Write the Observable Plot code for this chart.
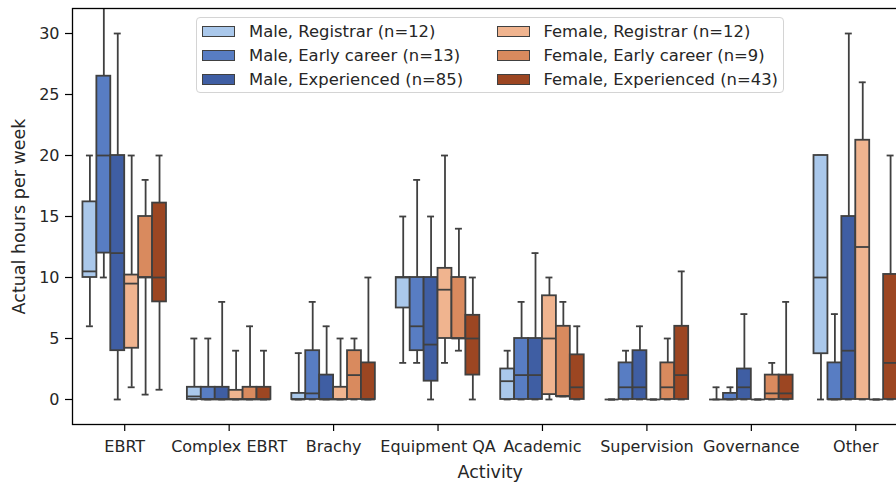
<!DOCTYPE html>
<html>
<head>
<meta charset="utf-8">
<script src="https://cdn.jsdelivr.net/npm/d3@7"></script>
<script src="https://cdn.jsdelivr.net/npm/@observablehq/plot@0.6"></script>
<style>
  html, body { margin: 0; padding: 0; background: white; overflow: hidden; }
  #wrap { position: relative; width: 896px; height: 483px; font-family: "DejaVu Sans", sans-serif; }
  #legend { position: absolute; left: 196px; top: 17px; width: 588px; height: 76px;
    border: 1px solid #d4d4d4; border-radius: 4px; background: rgba(255,255,255,0.85);
    box-sizing: border-box; }
  .item { position: absolute; height: 24px; display: flex; align-items: center; font-size: 16.4px; color: #262626; white-space: nowrap; }
  .sw { width: 33px; height: 11px; border: 1.3px solid #404040; box-sizing: border-box; margin-right: 14px; }
</style>
</head>
<body>
<div id="wrap"></div>
<script>
const activities = ["EBRT", "Complex EBRT", "Brachy", "Equipment QA", "Academic", "Supervision", "Governance", "Other"];
const groups = [
  "Male, Registrar (n=12)", "Male, Early career (n=13)", "Male, Experienced (n=85)",
  "Female, Registrar (n=12)", "Female, Early career (n=9)", "Female, Experienced (n=43)"
];
const colors = ["#aac8eb", "#587dc3", "#3f5ea3", "#f0b48f", "#d98a5e", "#9c4622"];
const yTicks = [0, 5, 10, 15, 20, 25, 30];

// five-number summaries per activity: [lower whisker, Q1, median, Q3, upper whisker]
const maleRegistrar = [
  [6, 10, 10.5, 16.2, 20], [0, 0, 0.25, 1, 5], [0, 0, 0, 0.5, 3.8], [3, 7.5, 10, 10, 15],
  [0, 0, 1.5, 2.5, 4], [0, 0, 0, 0, 0], [0, 0, 0, 0, 1], [0, 3.75, 10, 20, 20]
];
const maleEarly = [
  [10, 12, 20, 26.5, 40], [0, 0, 0, 1, 5], [0, 0, 0.5, 4, 8], [3, 4, 6, 10, 18],
  [0, 0, 2, 5, 8], [0, 0, 1, 3, 4], [0, 0, 0, 0.5, 1], [0, 0, 0, 3, 7]
];
const maleExperienced = [
  [0, 4, 12, 20, 30], [0, 0, 0, 1, 8], [0, 0, 0, 2, 6], [0, 1.5, 4.5, 10, 15],
  [0, 0, 2, 5, 12], [0, 0, 1, 4, 6], [0, 0, 1, 2.5, 7], [0, 0, 4, 15, 30]
];
const femaleRegistrar = [
  [1, 4.2, 9.5, 10.2, 20], [0, 0, 0, 0.75, 4], [0, 0, 0, 1, 5], [3, 5, 9, 10.75, 20],
  [0, 0.4, 5, 8.5, 10], [0, 0, 0, 0, 0], [0, 0, 0, 0, 0], [0, 0, 12.5, 21.25, 26]
];
const femaleEarly = [
  [0.4, 10, 10, 15, 18], [0, 0, 0, 1, 6], [0, 0, 2, 4, 5], [4, 5, 5, 10, 14],
  [0.25, 0.25, 0.25, 6, 8], [0, 0, 1, 3, 5], [0, 0, 0.5, 2, 3], [0, 0, 0, 0, 0]
];
const femaleExperienced = [
  [0.8, 8, 10, 16.1, 20], [0, 0, 0, 1, 4], [0, 0, 0, 3, 10], [0, 2, 5, 6.9, 10],
  [0, 0, 1, 3.66, 6], [0, 0, 2, 6, 10.5], [0, 0, 0.5, 2, 8], [0, 0, 3, 10.25, 20]
];
const series = [maleRegistrar, maleEarly, maleExperienced, femaleRegistrar, femaleEarly, femaleExperienced];

const rows = [];
series.forEach((s, g) => s.forEach(([lo, q1, med, q3, hi], i) => {
  rows.push({activity: activities[i], i, g, group: groups[g], lo, q1, med, q3, hi});
}));

const groupSpan = 0.8, boxW = groupSpan / groups.length;
const left = d => d.i - groupSpan / 2 + d.g * boxW;
const right = d => left(d) + boxW;
const center = d => left(d) + boxW / 2;
const capL = d => center(d) - boxW / 4;
const capR = d => center(d) + boxW / 4;

const line = "#404040", lw = 1.8;

const chart = Plot.plot({
  width: 896,
  height: 483,
  marginLeft: 72,
  marginRight: -11.5,
  marginTop: 8,
  marginBottom: 59,
  style: {fontFamily: "DejaVu Sans, sans-serif", fontSize: "16px", color: "#262626", overflow: "hidden", background: "white"},
  x: {domain: [-0.5, activities.length - 0.5]},
  y: {domain: [-2.05, 32.05]},
  color: {domain: groups, range: colors},
  marks: [
    Plot.ruleX(rows, {x: center, y1: "lo", y2: "q1", stroke: line, strokeWidth: lw, clip: true}),
    Plot.ruleX(rows, {x: center, y1: "q3", y2: "hi", stroke: line, strokeWidth: lw, clip: true}),
    Plot.ruleY(rows, {y: "lo", x1: capL, x2: capR, stroke: line, strokeWidth: lw, clip: true}),
    Plot.ruleY(rows, {y: "hi", x1: capL, x2: capR, stroke: line, strokeWidth: lw, clip: true}),
    Plot.rect(rows, {x1: left, x2: right, y1: "q1", y2: "q3", fill: "group", stroke: line, strokeWidth: lw, clip: true}),
    Plot.ruleY(rows, {y: "med", x1: left, x2: right, stroke: line, strokeWidth: lw, clip: true}),
    Plot.frame({stroke: "#000", strokeWidth: 1.3}),
    Plot.axisY({ticks: yTicks, tickSize: 7, tickPadding: 6, label: null, stroke: "#000", strokeWidth: 1.2}),
    Plot.axisY({ticks: [], label: "Actual hours per week", labelArrow: "none", labelAnchor: "center", labelOffset: 60, fontSize: 17.5}),
    Plot.axisX({ticks: d3.range(activities.length), tickFormat: i => activities[i], tickSize: 7, tickPadding: 9, label: null, stroke: "#000", strokeWidth: 1.2}),
    Plot.axisX({ticks: [], label: "Activity", labelArrow: "none", labelAnchor: "center", labelOffset: 53, fontSize: 17.5})
  ]
});
const wrap = document.getElementById("wrap");
wrap.appendChild(chart);

const legend = document.createElement("div");
legend.id = "legend";
groups.forEach((g, k) => {
  const col = Math.floor(k / 3), row = k % 3;
  const it = document.createElement("div");
  it.className = "item";
  it.style.left = (5 + col * 294.5) + "px";
  it.style.top = (1 + row * 24.3) + "px";
  const sw = document.createElement("div");
  sw.className = "sw";
  sw.style.background = colors[k];
  const t = document.createElement("span");
  t.textContent = g;
  it.appendChild(sw); it.appendChild(t);
  legend.appendChild(it);
});
wrap.appendChild(legend);
</script>
</body>
</html>
